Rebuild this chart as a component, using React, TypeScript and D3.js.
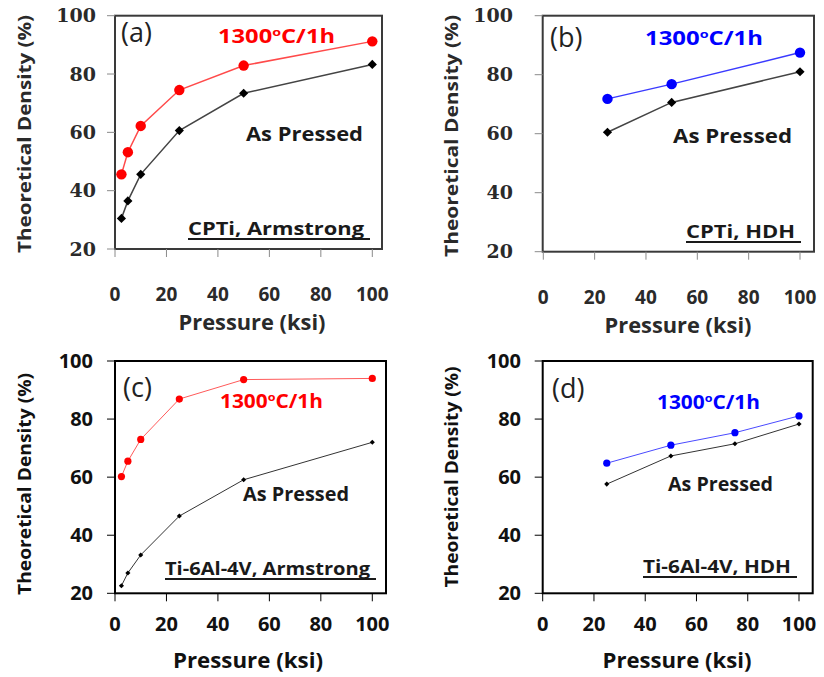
import React from "react";
import * as d3 from "d3";

const xTicks = [0, 20, 40, 60, 80, 100];
const yTicks = [20, 40, 60, 80, 100];

const pressureA = [2.5, 5, 10, 25, 50, 100];
const sinteredA = [45.6, 53.2, 62.2, 74.5, 82.9, 91.2];
const pressedA = [30.5, 36.5, 45.6, 60.6, 73.4, 83.3];

const pressureB = [25, 50, 100];
const sinteredB = [71.8, 76.8, 87.5];
const pressedB = [60.5, 70.6, 81];

const pressureC = [2.5, 5, 10, 25, 50, 100];
const sinteredC = [60.2, 65.5, 73, 86.9, 93.6, 94];
const pressedC = [22.6, 27, 33.2, 46.6, 59.1, 72];

const pressureD = [25, 50, 75, 100];
const sinteredD = [64.8, 71, 75.3, 81.1];
const pressedD = [57.6, 67.3, 71.5, 78.3];

const SANS = "'Open Sans', Lato, sans-serif";
const SERIF = "'DejaVu Serif', 'Liberation Serif', serif";

type Panel = {
  label: string;
  material: string;
  x: number[];
  sint: number[];
  press: number[];
  sintColor: string;
  sintLine: string;
  x0: number; x100: number; boxL: number; boxR: number; yTop: number; yBot: number;
  axisColor: string; tickColor: string; textColor: string;
  yTickFont: string; yTickRight: number; xTickY: number;
  yTitleX: number; yTitleY: number; yTitleLen: number;
  xTitleX: number; xTitleY: number; xTitleLen: number;
  lab: [number, number];
  temp: [number, number, number];
  pressedT: [number, number, number];
  mat: [number, number, number];
  circleR: number; diamond: number; lineW: number; pressLine: string;
  fs: number;
};

const panels: Panel[] = [
  {
    label: "(a)", material: "CPTi, Armstrong", x: pressureA, sint: sinteredA, press: pressedA,
    sintColor: "#ff0000", sintLine: "#ff4a4a",
    x0: 115, x100: 372.3, boxL: 115, boxR: 382, yTop: 15.7, yBot: 249,
    axisColor: "#3a3a3a", tickColor: "#8a8a8a", textColor: "#2a2a2a",
    yTickFont: SERIF, yTickRight: 96, xTickY: 294,
    yTitleX: 25, yTitleY: 134, yTitleLen: 238,
    xTitleX: 252, xTitleY: 330, xTitleLen: 147,
    lab: [121, 42], temp: [218, 43, 117], pressedT: [246, 141, 117], mat: [188, 235, 176],
    circleR: 5.2, diamond: 42, lineW: 1.5, pressLine: "#444", fs: 19,
  },
  {
    label: "(b)", material: "CPTi, HDH", x: pressureB, sint: sinteredB, press: pressedB,
    sintColor: "#0000ff", sintLine: "#3a3aff",
    x0: 543.3, x100: 800, boxL: 542.7, boxR: 814, yTop: 15.7, yBot: 251.7,
    axisColor: "#3a3a3a", tickColor: "#8a8a8a", textColor: "#2a2a2a",
    yTickFont: SERIF, yTickRight: 513, xTickY: 297,
    yTitleX: 452, yTitleY: 136, yTitleLen: 242,
    xTitleX: 678, xTitleY: 333, xTitleLen: 147,
    lab: [550, 47], temp: [645, 45, 118], pressedT: [673, 143, 119], mat: [686, 238, 109],
    circleR: 5.2, diamond: 42, lineW: 1.5, pressLine: "#444", fs: 19,
  },
  {
    label: "(c)", material: "Ti-6Al-4V, Armstrong", x: pressureC, sint: sinteredC, press: pressedC,
    sintColor: "#ff0000", sintLine: "#ff5a5a",
    x0: 115, x100: 372.3, boxL: 115, boxR: 386, yTop: 361, yBot: 593.3,
    axisColor: "#000", tickColor: "#000", textColor: "#111",
    yTickFont: SANS, yTickRight: 93, xTickY: 623.5,
    yTitleX: 25, yTitleY: 484, yTitleLen: 222,
    xTitleX: 248, xTitleY: 668, xTitleLen: 150,
    lab: [123, 397], temp: [220, 408, 103], pressedT: [243, 501, 106], mat: [165, 575, 205],
    circleR: 3.6, diamond: 13, lineW: 1, pressLine: "#333", fs: 19,
  },
  {
    label: "(d)", material: "Ti-6Al-4V, HDH", x: pressureD, sint: sinteredD, press: pressedD,
    sintColor: "#0000ff", sintLine: "#4a4aff",
    x0: 542.7, x100: 799, boxL: 542.7, boxR: 812.7, yTop: 361, yBot: 593.3,
    axisColor: "#000", tickColor: "#000", textColor: "#111",
    yTickFont: SANS, yTickRight: 521, xTickY: 623.5,
    yTitleX: 452, yTitleY: 477, yTitleLen: 221,
    xTitleX: 677, xTitleY: 668, xTitleLen: 149,
    lab: [552, 398], temp: [657, 409, 103], pressedT: [668, 491, 105], mat: [643, 573, 148],
    circleR: 3.6, diamond: 13, lineW: 1, pressLine: "#333", fs: 19,
  },
];

function PanelView({ p }: { p: Panel }) {
  const xs = d3.scaleLinear().domain([0, 100]).range([p.x0, p.x100]);
  const ys = d3.scaleLinear().domain([20, 100]).range([p.yBot, p.yTop]);
  const pts = (vals: number[]) => p.x.map((xv, i) => [xs(xv), ys(vals[i])] as [number, number]);
  const line = d3.line();
  const sintPts = pts(p.sint);
  const pressPts = pts(p.press);
  const diamondPath = d3.symbol(d3.symbolSquare, p.diamond)() as string;
  return (
    <g>
      <rect x={p.boxL} y={p.yTop} width={p.boxR - p.boxL} height={p.yBot - p.yTop}
        fill="none" stroke={p.axisColor} strokeWidth={2} />
      {yTicks.map((t) => (
        <g key={"y" + t}>
          <line x1={p.boxL - 8} x2={p.boxL} y1={ys(t)} y2={ys(t)} stroke={p.tickColor} strokeWidth={1} />
          <text x={p.yTickRight} y={ys(t)} dy="0.35em" textAnchor="end"
            fontFamily={p.yTickFont} fontWeight="bold" fontSize={p.yTickFont === SERIF ? 19 : 20}
            fill={p.textColor}>{t}</text>
        </g>
      ))}
      {xTicks.map((t) => (
        <g key={"x" + t}>
          <line x1={xs(t)} x2={xs(t)} y1={p.yBot} y2={p.yBot + 8} stroke={p.tickColor} strokeWidth={1} />
          <text x={xs(t)} y={p.xTickY} dy="0.35em" textAnchor="middle"
            fontFamily={SANS} fontWeight="bold" fontSize={p.yTickFont === SERIF ? 19 : 20} fill={p.textColor}>{t}</text>
        </g>
      ))}
      <text transform={`translate(${p.yTitleX},${p.yTitleY}) rotate(-90)`} textAnchor="middle" dy="0.35em"
        fontFamily={SANS} fontWeight="bold" fontSize={18} fill={p.textColor}
        textLength={p.yTitleLen} lengthAdjust="spacingAndGlyphs">Theoretical Density (%)</text>
      <text x={p.xTitleX} y={p.xTitleY} textAnchor="middle"
        fontFamily={SANS} fontWeight="bold" fontSize={21} fill={p.textColor}
        textLength={p.xTitleLen} lengthAdjust="spacingAndGlyphs">Pressure (ksi)</text>
      <path d={line(pressPts) as string} fill="none" stroke={p.pressLine} strokeWidth={p.lineW} />
      <path d={line(sintPts) as string} fill="none" stroke={p.sintLine} strokeWidth={p.lineW} />
      {pressPts.map(([x, y], i) => (
        <path key={"d" + i} d={diamondPath} transform={`translate(${x},${y}) rotate(45)`} fill="#000" />
      ))}
      {sintPts.map(([x, y], i) => (
        <circle key={"c" + i} cx={x} cy={y} r={p.circleR} fill={p.sintColor} />
      ))}
      <text x={p.lab[0]} y={p.lab[1]} fontFamily={SANS} fontSize={27} fill="#222">{p.label}</text>
      <text x={p.temp[0]} y={p.temp[1]} fontFamily={SANS} fontWeight="bold" fontSize={p.fs}
        fill={p.sintColor} textLength={p.temp[2]} lengthAdjust="spacingAndGlyphs">
        1300<tspan fontSize={p.fs * 0.6} dy={-7}>o</tspan><tspan dy={7}>C/1h</tspan>
      </text>
      <text x={p.pressedT[0]} y={p.pressedT[1]} fontFamily={SANS} fontWeight="bold" fontSize={p.fs}
        fill="#1a1a1a" textLength={p.pressedT[2]} lengthAdjust="spacingAndGlyphs">As Pressed</text>
      <text x={p.mat[0]} y={p.mat[1]} fontFamily={SANS} fontWeight="bold" fontSize={p.fs - 1}
        fill="#1a1a1a" textLength={p.mat[2]} lengthAdjust="spacingAndGlyphs">{p.material}</text>
      <line x1={p.mat[0]} x2={p.mat[0] + p.mat[2] + 6} y1={p.mat[1] + 4} y2={p.mat[1] + 4}
        stroke="#1a1a1a" strokeWidth={2} />
    </g>
  );
}

export default function App() {
  return (
    <div style={{ position: "absolute", left: 0, top: 0 }}>
      <svg width={824} height={677} style={{ display: "block", background: "#fff" }}>
        {panels.map((p) => <PanelView key={p.label} p={p} />)}
      </svg>
    </div>
  );
}
